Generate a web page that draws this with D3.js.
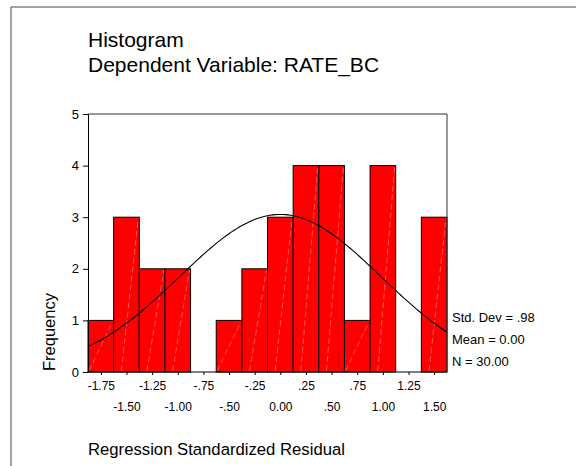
<!DOCTYPE html>
<html>
<head>
<meta charset="utf-8">
<script src="https://cdn.jsdelivr.net/npm/d3@7"></script>
<style>
  body { margin: 0; background: #fff; }
  svg { display: block; font-family: "Liberation Sans", Arial, sans-serif; }
</style>
</head>
<body>
<div id="chart"></div>
<script>
// histogram data: bin centres and frequencies
var binCenters = [-1.75, -1.5, -1.25, -1.0, -0.75, -0.5, -0.25, 0.0, 0.25, 0.5, 0.75, 1.0, 1.25, 1.5];
var counts     = [1, 3, 2, 2, 0, 1, 2, 3, 4, 4, 1, 4, 0, 3];
var xTickLabels = ["-1.75", "-1.50", "-1.25", "-1.00", "-.75", "-.50", "-.25",
                   "0.00", ".25", ".50", ".75", "1.00", "1.25", "1.50"];
var yTicks = [0, 1, 2, 3, 4, 5];
var statLabels = ["Std. Dev = .98", "Mean = 0.00", "N = 30.00"];
var stdDev = 0.98, mean = 0.0, n = 30, binWidth = 0.25;

var width = 576, height = 466;
var plotL = 88, plotR = 447, plotT = 114, plotB = 372;

var svg = d3.select("#chart").append("svg")
    .attr("width", width)
    .attr("height", height);

// outer frame (left + top only)
svg.append("path")
    .attr("d", "M11," + height + "V7H" + width)
    .attr("fill", "none")
    .attr("stroke", "#444")
    .attr("stroke-width", 1);

// titles
svg.append("text").attr("x", 88).attr("y", 47)
    .style("font-size", "21px").text("Histogram");
svg.append("text").attr("x", 88).attr("y", 72)
    .style("font-size", "21px").text("Dependent Variable: RATE_BC");

var x = d3.scaleLinear()
    .domain([binCenters[0] - binWidth / 2, binCenters[binCenters.length - 1] + binWidth / 2])
    .range([plotL, plotR]);
var y = d3.scaleLinear().domain([0, 5]).range([plotB, plotT]);

// bars
var bars = svg.append("g").selectAll("g")
    .data(binCenters.map(function(c, i) { return { c: c, n: counts[i] }; })
        .filter(function(d) { return d.n > 0; }))
    .enter().append("g");

bars.append("rect")
    .attr("x", function(d) { return x(d.c - binWidth / 2); })
    .attr("y", function(d) { return y(d.n); })
    .attr("width", function(d) { return x(d.c + binWidth / 2) - x(d.c - binWidth / 2); })
    .attr("height", function(d) { return y(0) - y(d.n); })
    .attr("fill", "#ff0000")
    .attr("stroke", "#000")
    .attr("stroke-width", 1);

// faint diagonal streak inside each bar
bars.append("line")
    .attr("x1", function(d) {
        var w = x(d.c + binWidth / 2) - x(d.c - binWidth / 2);
        return x(d.c - binWidth / 2) + (d.n > 1 ? w * 0.3 : 1);
    })
    .attr("y1", y(0) - 1)
    .attr("x2", function(d) { return x(d.c + binWidth / 2) - 1; })
    .attr("y2", function(d) { return y(d.n) + 1; })
    .attr("stroke", "#ffb0b0")
    .attr("stroke-width", 0.7)
    .attr("stroke-dasharray", "6,3")
    .attr("opacity", 0.7);

// fitted normal curve (from the displayed mean / std. dev / N)
var curveX = d3.range(x.domain()[0], x.domain()[1] + 0.001, 0.025);
var line = d3.line()
    .x(function(v) { return x(v); })
    .y(function(v) {
        var z = (v - mean) / stdDev;
        return y(n * binWidth / (stdDev * Math.sqrt(2 * Math.PI)) * Math.exp(-0.5 * z * z));
    });
svg.append("path")
    .datum(curveX)
    .attr("d", line)
    .attr("fill", "none")
    .attr("stroke", "#000")
    .attr("stroke-width", 1.1);

// plot frame top + right
svg.append("path")
    .attr("d", "M" + plotL + "," + plotT + "H" + plotR + "V" + plotB)
    .attr("fill", "none")
    .attr("stroke", "#333")
    .attr("stroke-width", 1);

// y axis
var yAxis = svg.append("g")
    .attr("transform", "translate(" + plotL + ",0)")
    .call(d3.axisLeft(y).tickValues(yTicks).tickSize(5).tickPadding(4).tickFormat(d3.format("d")));
yAxis.select(".domain").attr("stroke", "#000");
yAxis.selectAll("text").style("font-size", "13px").attr("fill", "#000")
    .style("font-family", "'Liberation Sans', Arial, sans-serif");

// x axis, labels staggered in two rows
var xAxis = svg.append("g")
    .attr("transform", "translate(0," + plotB + ")")
    .call(d3.axisBottom(x).tickValues(binCenters).tickSize(3)
        .tickFormat(function(d, i) { return xTickLabels[i]; }));
xAxis.select(".domain").attr("d", "M" + plotL + ",0H" + plotR).attr("stroke", "#000");
xAxis.selectAll("text")
    .style("font-size", "12px").attr("fill", "#000")
    .style("font-family", "'Liberation Sans', Arial, sans-serif")
    .attr("dy", 0)
    .attr("y", function(d, i) { return i % 2 === 0 ? 18 : 39; });

// stats legend
svg.append("g").selectAll("text")
    .data(statLabels)
    .enter().append("text")
    .attr("x", 452)
    .attr("y", function(d, i) { return 322 + i * 22; })
    .style("font-size", "13px")
    .text(function(d) { return d; });

// axis titles
svg.append("text")
    .attr("transform", "translate(55,332) rotate(-90)")
    .attr("text-anchor", "middle")
    .style("font-size", "16.5px")
    .text("Frequency");
svg.append("text").attr("x", 88).attr("y", 455)
    .style("font-size", "16.7px").text("Regression Standardized Residual");
</script>
</body>
</html>
